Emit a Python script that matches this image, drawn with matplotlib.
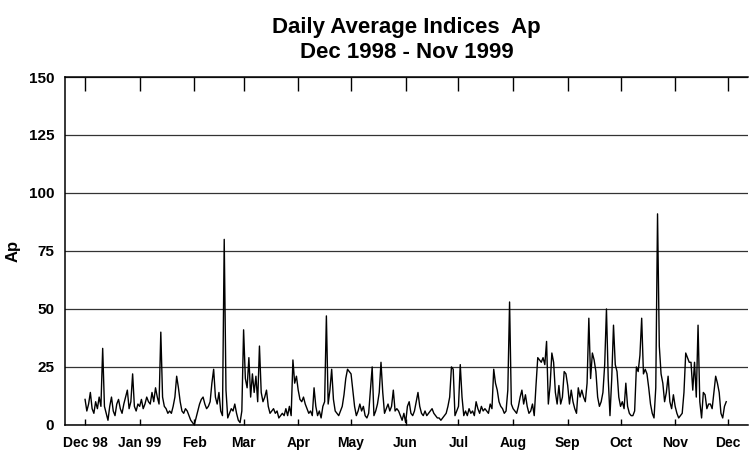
import matplotlib
matplotlib.use("Agg")
import matplotlib.pyplot as plt
import numpy as np

plt.rcParams['font.family'] = ['Liberation Sans Narrow', 'Liberation Sans', 'DejaVu Sans']

# daily Ap, Dec 1998 - Nov 1999
dec98 = [11, 6, 9, 14, 7, 5, 10, 7, 12, 8, 33, 8, 5, 2, 8, 12, 6, 4, 9, 11, 7, 5, 9, 12, 15, 7, 10, 22, 8, 6, 9]
jan99 = [8, 11, 7, 9, 12, 10, 9, 14, 10, 16, 12, 9, 40, 12, 8, 7, 5, 6, 5, 8, 12, 21, 16, 10, 6, 5, 7, 6, 4, 2, 1]
feb99 = [0, 3, 6, 9, 11, 12, 9, 7, 8, 10, 18, 24, 12, 9, 14, 6, 4, 80, 15, 3, 5, 7, 6, 9, 5, 2, 1, 6]
mar99 = [41, 20, 16, 29, 12, 22, 14, 21, 10, 34, 14, 10, 12, 15, 8, 5, 6, 7, 5, 6, 3, 4, 5, 4, 7, 4, 8, 4, 28, 18, 21]
apr99 = [15, 11, 10, 12, 9, 7, 5, 6, 4, 16, 8, 4, 6, 3, 8, 10, 47, 9, 15, 24, 11, 6, 5, 4, 6, 8, 13, 20, 24, 23]
may99 = [22, 15, 8, 4, 6, 9, 6, 8, 4, 3, 5, 15, 25, 4, 6, 9, 14, 27, 14, 5, 7, 9, 6, 8, 15, 6, 7, 6, 4, 2, 5]
jun99 = [1, 8, 10, 5, 4, 6, 10, 14, 8, 5, 4, 6, 4, 5, 6, 7, 5, 4, 3, 3, 2, 3, 4, 5, 8, 12, 25, 24, 4, 6]
jul99 = [8, 26, 12, 4, 6, 4, 7, 5, 6, 4, 10, 7, 5, 8, 6, 7, 6, 5, 9, 7, 24, 18, 15, 10, 8, 7, 5, 6, 15, 53, 9]
aug99 = [7, 6, 5, 8, 12, 15, 9, 13, 8, 5, 6, 9, 4, 17, 29, 28, 27, 29, 26, 36, 9, 17, 31, 27, 14, 9, 17, 9, 12, 23, 22]
sep99 = [17, 9, 15, 10, 7, 5, 16, 12, 15, 12, 10, 18, 46, 20, 31, 28, 23, 12, 8, 10, 14, 26, 50, 20, 4, 20, 43, 26, 23, 12]
oct99 = [8, 10, 7, 18, 8, 5, 4, 4, 6, 25, 23, 30, 46, 22, 24, 22, 16, 9, 5, 3, 16, 91, 34, 22, 18, 10, 14, 21, 10, 7, 13]
nov99 = [8, 5, 3, 4, 5, 14, 31, 29, 27, 27, 15, 27, 12, 43, 10, 3, 14, 13, 7, 9, 9, 7, 14, 21, 18, 14, 5, 3, 8, 10]

months = [dec98, jan99, feb99, mar99, apr99, may99, jun99, jul99, aug99, sep99, oct99, nov99]
month_labels = ['Dec 98', 'Jan 99', 'Feb', 'Mar', 'Apr', 'May', 'Jun', 'Jul', 'Aug', 'Sep', 'Oct', 'Nov', 'Dec']

ap = np.concatenate(months)
days = np.arange(len(ap))
month_starts = np.concatenate([[0], np.cumsum([len(m) for m in months])])

fig = plt.figure(figsize=(7.49, 4.53), dpi=100)
ax = fig.add_axes([0.087, 0.062, 0.912, 0.768])

ax.plot(days, ap, color='black', lw=1.0)

ax.set_xlim(-11.3, 376.5)
ax.set_ylim(0, 150)
ax.set_yticks(np.arange(0, 151, 25))
ax.yaxis.grid(True, color='#333333', lw=0.9)
ax.set_axisbelow(True)

ax.set_xticks(month_starts)
ax.set_xticklabels(month_labels, fontsize=10, fontweight='bold')
ax.tick_params(axis='x', direction='in', length=4, width=1, top=True, pad=8)
for t in ax.xaxis.get_major_ticks():
    t.tick2line.set_markersize(10)
ax.tick_params(axis='y', length=0, labelsize=11, pad=8)
for lab in ax.get_yticklabels():
    lab.set_fontweight('bold')

ax.spines['right'].set_visible(False)
for s in ['left', 'top', 'bottom']:
    ax.spines[s].set_linewidth(1.1)

ax.set_ylabel('Ap', fontsize=12, fontweight='bold', labelpad=6)
ax.set_title('Daily Average Indices  Ap\nDec 1998 - Nov 1999', fontsize=16, fontweight='bold',
             linespacing=1.2, pad=14)

fig.savefig('out.png', dpi=100)
